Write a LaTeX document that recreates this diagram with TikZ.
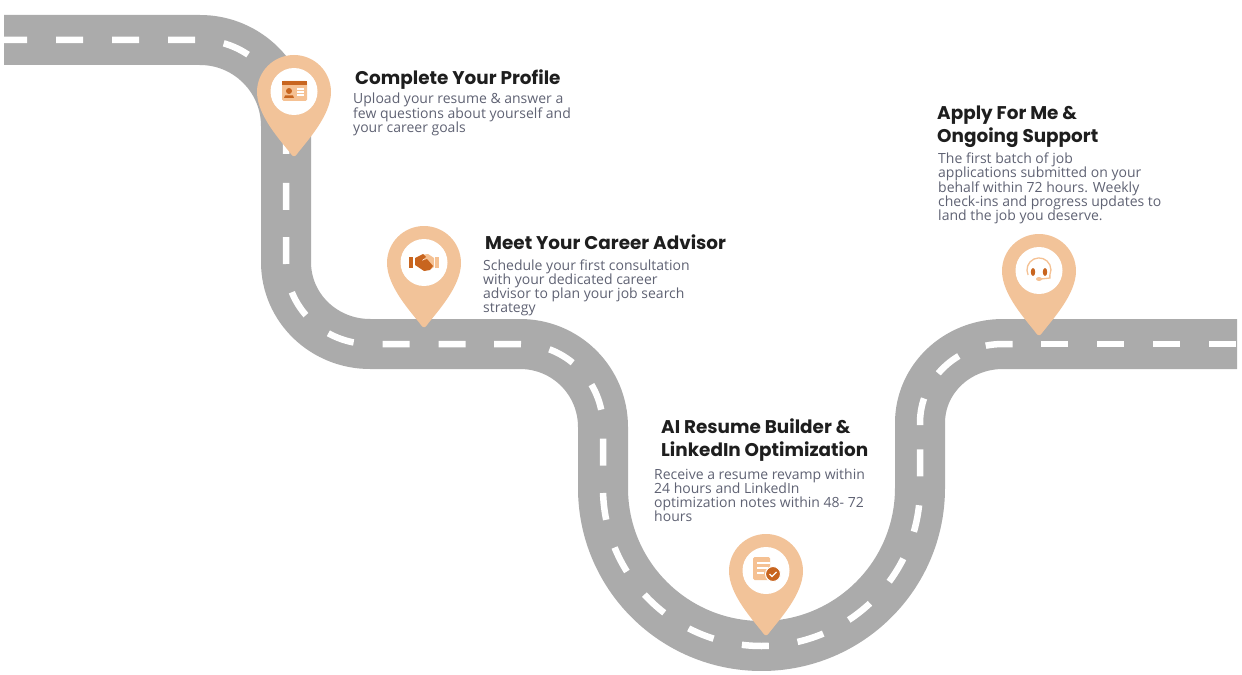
\documentclass[tikz,border=0pt]{standalone}
\usepackage{fontspec}
\setmainfont{Open Sans}
\newfontfamily\headfont{Poppins}
\usetikzlibrary{positioning}
\definecolor{roadcol}{HTML}{ABABAB}
\definecolor{pincol}{HTML}{F2C399}
\definecolor{icondark}{HTML}{C8651F}
\definecolor{iconlight}{HTML}{F5C193}
\definecolor{headcol}{HTML}{1E1E1E}
\definecolor{bodycol}{HTML}{5F6273}
\tikzset{
  road/.style={draw=roadcol,line width=50bp,line join=round},
  lane/.style={draw=white,line width=6.5bp,dash pattern=on 27bp off 29bp,dash phase=#1},
  headtext/.style={anchor=base west,inner sep=0pt,align=left,text=headcol,font=\headfont\fontsize{18.4bp}{23bp}\selectfont\bfseries},
  bodytext/.style={anchor=base west,inner sep=0pt,align=left,text=bodycol,font=\fontsize{14bp}{14bp}\selectfont},
  pics/mappin/.style={code={
    \fill[pincol] (-37,0) arc[start angle=180,end angle=360,radius=37]
      .. controls (37,24) and (12,50) .. (3,62)
      .. controls (1,65) and (-1,65) .. (-3,62)
      .. controls (-12,50) and (-37,24) .. (-37,0) -- cycle;
    \fill[white] (0,-0.5) circle[radius=23.5];
  }},
}
\begin{document}
\begin{tikzpicture}[x=1bp,y=-1bp]
\useasboundingbox (0,0) rectangle (1242,675);
%% the road
\begin{scope}
\clip (0,0) rectangle (1242,670);
\path[road] (4,40) -- (200,40) .. controls (247.5,40) and (286,78.5) .. (286,126)
  -- (286,262) .. controls (286,308) and (324,344) .. (370,344)
  -- (520,344) .. controls (566,344) and (603,381) .. (603,427)
  -- (603,488) .. controls (603,575.5) and (674,646) .. (761.5,646)
  .. controls (849,646) and (920,575.5) .. (920,488)
  -- (920,423) .. controls (920,379) and (957,344) .. (1003,344)
  -- (1237,344);
\end{scope}
%% the lane marks, one piece per straight
\path[lane=4bp] (4,40) -- (200,40) .. controls (247.5,40) and (286,78.5) .. (286,126) -- (286,223);
\path[lane=42bp] (286,223) -- (286,262) .. controls (286,308) and (324,344) .. (370,344) -- (480,344);
\path[lane=42bp] (480,344) -- (520,344) .. controls (566,344) and (603,381) .. (603,427) -- (603,479);
\path[lane=42bp] (603,479) -- (603,488) .. controls (603,575.5) and (674,646) .. (761.5,646)
  .. controls (849,646) and (920,575.5) .. (920,488) -- (920,440);
\path[lane=41bp] (920,440) -- (920,423) .. controls (920,379) and (957,344) .. (1003,344) -- (1026,344);
\path[lane=41bp] (1026,344) -- (1237,344);
%% pins
\pic at (294,92) {mappin};
\pic at (424,263) {mappin};
\pic at (766,571) {mappin};
\pic at (1039,271) {mappin};
%% profile card
\fill[iconlight,rounded corners=1.5bp] (282,81) rectangle (307,101);
\fill[icondark] (282,81) rectangle (307,85);
\fill[icondark] (289,91) circle[radius=3];
\fill[icondark] (284,98) -- (285,95.5) -- (293,95.5) -- (294,98) -- cycle;
\foreach \y in {89,92,95} \fill[white] (297,\y-0.6) rectangle (304,\y+0.6);
%% handshake
\fill[icondark] (409,257) rectangle (413,268);
\fill[iconlight] (435,257) rectangle (439,268);
\fill[iconlight] (421,255) -- (428,254) -- (434,258) -- (434,267) -- (431,269) -- cycle;
\fill[icondark] (415,258) -- (423,254) -- (426,257) -- (421,261) -- (427,259) -- (433,266) -- (430,270) -- (424,271) -- (415,265) -- cycle;
%% resume
\fill[iconlight,rounded corners=1.5bp] (753,557) rectangle (770,580);
\foreach \y/\w in {563/14,568/12,573/8} \fill[white] (757,\y-0.6) rectangle ({757+\w-1},\y+0.6);
\fill[icondark,draw=white,line width=1bp] (773,574) circle[radius=7.5];
\draw[white,line width=1.2bp] (769.5,574) -- (772,576.5) -- (776.5,572);
%% headset
\draw[iconlight,line width=1.3bp] (1028.1,275) arc[start angle=155,end angle=385,radius=12] -- (1049.9,278) -- (1041,279);
\fill[iconlight] (1039,279) ellipse[x radius=3,y radius=2];
\fill[icondark] (1033,272) ellipse[x radius=2.2,y radius=4];
\fill[icondark] (1045,272) ellipse[x radius=2.2,y radius=4];
%% texts
\node[headtext] (profilehead) at (355,85) {Complete Your Profile};
\node[bodytext] (profilebody) at (353,133) {Upload your resume \& answer a\\few questions about yourself and\\your career goals};
\node[headtext] (advisorhead) at (485,249) {Meet Your Career Advisor};
\node[bodytext] (advisorbody) at (483,312) {Schedule your first consultation\\with your dedicated career\\advisor to plan your job search\\strategy};
\node[headtext] (resumehead) at (661,456) {AI Resume Builder \&\\LinkedIn Optimization};
\node[bodytext] (resumebody) at (654,521) {Receive a resume revamp within\\24 hours and LinkedIn\\optimization notes within 48- 72\\hours};
\node[headtext] (applyhead) at (937,143) {Apply For Me \&\\Ongoing Support};
\node[bodytext] (applybody) at (938,221) {The first batch of job\\applications submitted on your\\behalf within 72 hours. Weekly\\check-ins and progress updates to\\land the job you deserve.};
\end{tikzpicture}
\end{document}
